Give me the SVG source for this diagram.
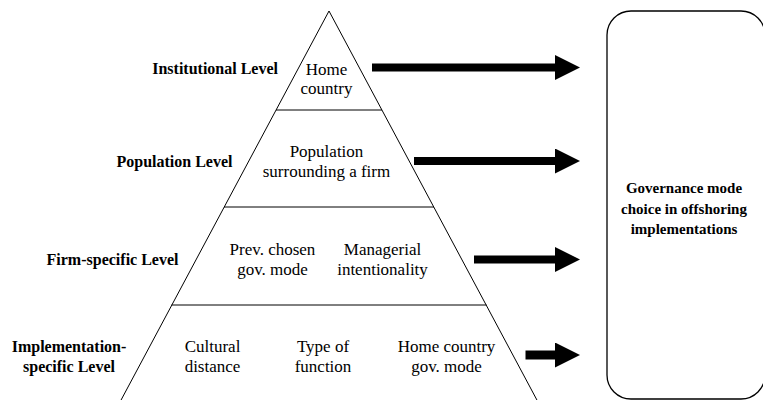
<svg xmlns="http://www.w3.org/2000/svg" width="763" height="400" viewBox="0 0 763 400">
<style>
  .lbl { font-size: 16px; font-weight: bold; fill: #000; }
  .inn { font-size: 17px; fill: #000; text-anchor: middle; }
  .box { font-size: 15px; font-weight: bold; fill: #000; text-anchor: middle; }
  .edge { stroke: #000; stroke-width: 1; fill: none; }
  .arrow { stroke: #000; stroke-width: 8; fill: none; }
</style>
<defs>
  <marker id="head" viewBox="0 0 25 25" refX="1" refY="12.5" markerWidth="25" markerHeight="25" markerUnits="userSpaceOnUse" orient="auto">
    <path d="M0,0 L25,12.5 L0,25 Z" fill="#000"/>
  </marker>
</defs>
<rect width="763" height="400" fill="#fff"/>

<g id="pyramid">
  <polyline class="edge" points="120,402 329,11 538,402"/>
  <line class="edge" x1="276" y1="110" x2="382" y2="110"/>
  <line class="edge" x1="224" y1="207" x2="434" y2="207"/>
  <line class="edge" x1="171.5" y1="305" x2="486.5" y2="305"/>
</g>

<g font-family="Liberation Serif, DejaVu Serif, serif">
<g id="institutional-level">
  <text class="lbl" x="278" y="74" text-anchor="end">Institutional Level</text>
  <text class="inn" x="326.5" y="74.5">Home</text>
  <text class="inn" x="326.5" y="94">country</text>
</g>

<g id="population-level">
  <text class="lbl" x="232.5" y="166.5" text-anchor="end">Population Level</text>
  <text class="inn" x="326.5" y="157">Population</text>
  <text class="inn" x="326.5" y="177">surrounding a firm</text>
</g>

<g id="firm-level">
  <text class="lbl" x="178.5" y="265" text-anchor="end">Firm-specific Level</text>
  <text class="inn" x="272.5" y="255">Prev. chosen</text>
  <text class="inn" x="272.5" y="274.5">gov. mode</text>
  <text class="inn" x="382.5" y="255">Managerial</text>
  <text class="inn" x="382.5" y="274.5">intentionality</text>
</g>

<g id="implementation-level">
  <text class="lbl" x="69" y="351.5" text-anchor="middle">Implementation-</text>
  <text class="lbl" x="69" y="371.5" text-anchor="middle">specific Level</text>
  <text class="inn" x="212.5" y="351.5">Cultural</text>
  <text class="inn" x="212.5" y="372">distance</text>
  <text class="inn" x="323" y="351.5">Type of</text>
  <text class="inn" x="323" y="372">function</text>
  <text class="inn" x="446.5" y="351.5">Home country</text>
  <text class="inn" x="446.5" y="372">gov. mode</text>
</g>

<g id="governance-mode">
  <rect x="607" y="11" width="158" height="388" rx="24" ry="24" fill="none" stroke="#000" stroke-width="1.3"/>
  <text class="box" x="684" y="193">Governance mode</text>
  <text class="box" x="684" y="213.5">choice in offshoring</text>
  <text class="box" x="684" y="234">implementations</text>
</g>
</g>

<g id="connectors">
  <line class="arrow" x1="372" y1="67.5" x2="556" y2="67.5" marker-end="url(#head)"/>
  <line class="arrow" x1="414" y1="161" x2="556" y2="161" marker-end="url(#head)"/>
  <line class="arrow" x1="474" y1="259.5" x2="556" y2="259.5" marker-end="url(#head)"/>
  <line class="arrow" x1="525.5" y1="355" x2="556" y2="355" marker-end="url(#head)" style="stroke-width:9"/>
</g>
</svg>
